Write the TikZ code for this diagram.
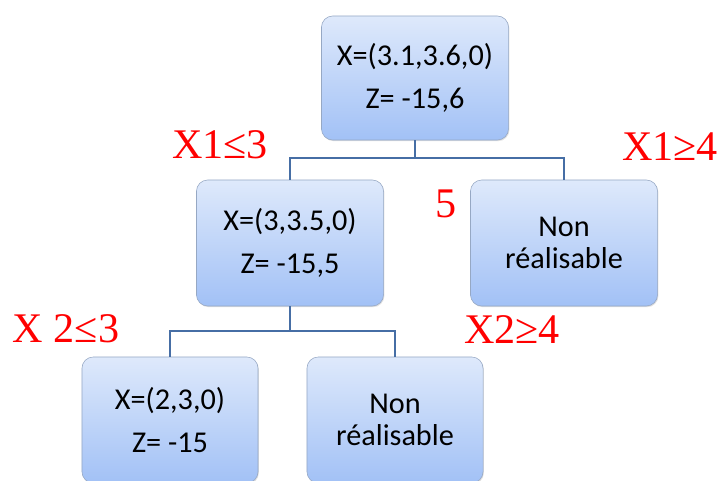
\documentclass[tikz,border=0pt]{standalone}
\usepackage{fontspec}
\setmainfont{Liberation Serif}
\newfontfamily\boxfont{Carlito}
\usetikzlibrary{positioning,shadows}
\definecolor{boxtop}{RGB}{222,233,251}
\definecolor{boxbot}{RGB}{162,193,246}
\definecolor{boxline}{RGB}{150,168,196}
\definecolor{linkcol}{RGB}{70,110,165}

\begin{document}
\begin{tikzpicture}[
                x=0.025cm, y=-0.025cm,
                every node/.style={inner sep=0pt},
                block/.style={rectangle, rounded corners=8pt, draw=boxline, thin,
                  top color=boxtop, bottom color=boxbot,
                  minimum width=4.675cm, minimum height=3.15cm, align=center,
                  font=\boxfont\fontsize{21.5}{23}\selectfont,
                  drop shadow={shadow xshift=0.6pt, shadow yshift=-0.8pt, opacity=0.25}},
                cut/.style={text=red, font=\fontsize{30}{36}\selectfont, anchor=base},
                link/.style={draw=linkcol, line width=1.6pt}
            ]
            \useasboundingbox (0,0) rectangle (721,480);
            \clip (0,0) rectangle (721,480);

            % Nodes
            \node [block, minimum height=3.1cm] (root) at (415,78) {X=(3.1,3.6,0)\\[8pt]Z= -15,6};
            \node [block] (left) at (290,243) {X=(3,3.5,0)\\[8pt]Z= -15,5};
            \node [block] (right) at (564,243) {Non\\réalisable};
            \node [block, minimum width=4.4cm] (leftleft) at (170,420) {X=(2,3,0)\\[8pt]Z= -15};
            \node [block, minimum width=4.4cm] (leftright) at (395,420) {Non\\réalisable};

            % Branch labels
            \node [cut] (cut1) at (220,158) {X1≤3};
            \node [cut] (cut2) at (670,160) {X1≥4};
            \node [cut] (cut3) at (446,217) {5};
            \node [cut] (cut4) at (66,342) {X 2≤3};
            \node [cut] (cut5) at (512,343) {X2≥4};

            % Links
            \draw[link] (root.south) -- ++(0,18) -| (left.north);
            \draw[link] (root.south) -- ++(0,18) -| (right.north);
            \draw[link] (left.south) -- ++(0,25) -| (leftleft.north);
            \draw[link] (left.south) -- ++(0,25) -| (leftright.north);

\end{tikzpicture}
\end{document}
